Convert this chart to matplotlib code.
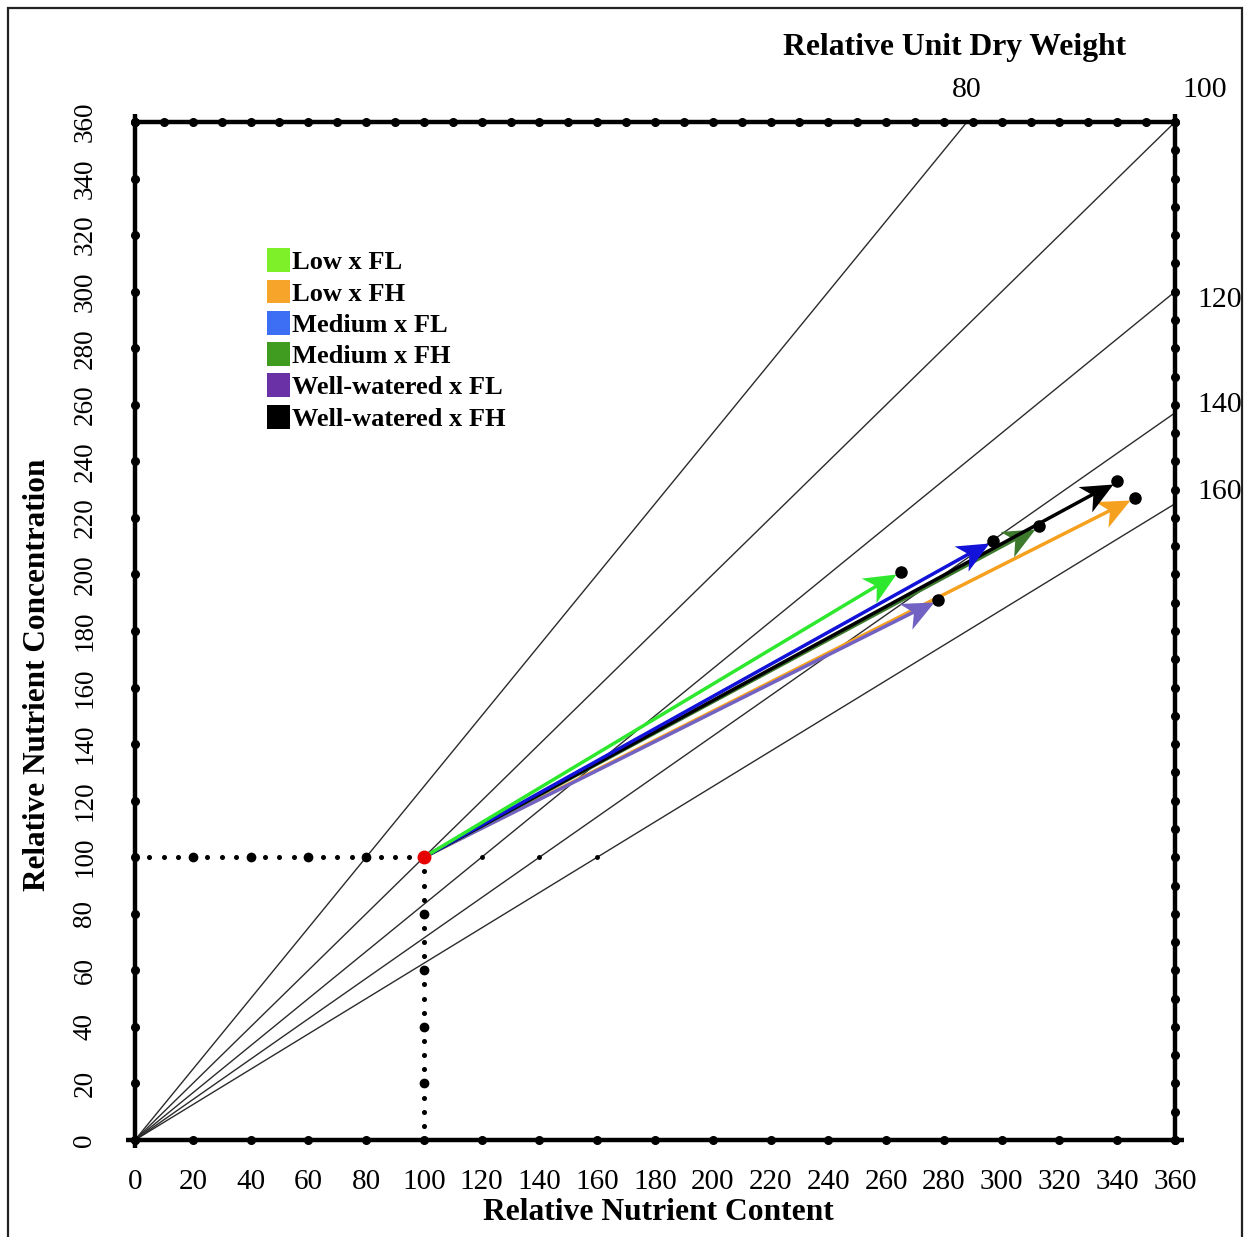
import numpy as np
import matplotlib
matplotlib.use("Agg")
import matplotlib.pyplot as plt
from matplotlib.patches import Patch, Rectangle
from matplotlib.markers import MarkerStyle
from matplotlib.path import Path

plt.rcParams['font.family'] = ['Liberation Serif', 'DejaVu Serif']

# treatments, vector end points (relative content, relative concentration)
treatments = ["Low x FL", "Low x FH", "Medium x FL", "Medium x FH",
              "Well-watered x FL", "Well-watered x FH"]
rel_content = [265, 346, 297, 313, 278, 340]
rel_concentration = [201, 227, 212, 217, 191, 233]
legend_colors = ["#7ef02a", "#f7a42a", "#3d6ff5", "#3f9c21", "#6a30a6", "#000000"]
vector_colors = ["#2ee82e", "#f5a11f", "#1212d8", "#3d7a2e", "#7262c4", "#000000"]
draw_order = [1, 4, 3, 5, 2, 0]

# reference point (control = 100, 100)
ref_content = 100
ref_concentration = 100

# isolines of relative unit dry weight
dry_weights = [80, 100, 120, 140, 160]
dry_weight_offsets = {80: (0, 32), 100: (30, 32), 120: (22, -8), 140: (22, 8), 160: (22, 12)}

axis_ticks = list(range(0, 361, 20))

fig = plt.figure(figsize=(12.44, 12.37), dpi=100)
W_px, H_px = 1244, 1237
ax = fig.add_axes([135 / W_px, (H_px - 1140) / H_px, 1040 / W_px, 1018 / H_px])
ax.set_xlim(0, 360)
ax.set_ylim(0, 360)
for s in ax.spines.values():
    s.set_visible(False)

# thick frame with round tick dots
frame_kw = dict(color="black", lw=3.2, clip_on=False, zorder=6, solid_capstyle="butt")
ax.plot([-3, 363], [0, 0], **frame_kw)
ax.plot([0, 0], [-3, 363], **frame_kw)
ax.plot([0, 360], [360, 360], **frame_kw)
ax.plot([360, 360], [0, 363], **frame_kw)
dot_kw = dict(ls="none", marker="o", color="black", ms=5.5, clip_on=False, zorder=7)
ax.plot(axis_ticks, np.zeros(len(axis_ticks)), **dot_kw)
ax.plot(np.zeros(len(axis_ticks)), axis_ticks, **dot_kw)
fine = np.arange(0, 361, 10)
ax.plot(fine, np.full(len(fine), 360), **dot_kw)
ax.plot(np.full(len(fine), 360), fine, **dot_kw)

ax.set_xticks(axis_ticks)
ax.set_yticks(axis_ticks)
ax.set_xticklabels([str(t) for t in axis_ticks], fontsize=21)
ax.set_yticklabels([str(t) for t in axis_ticks], fontsize=19.5, rotation=90, va="center")
ax.tick_params(axis="x", length=0, pad=21)
ax.tick_params(axis="y", length=0, pad=27)

# dry weight isolines from the origin
for w in dry_weights:
    xs = np.array([0, 360])
    ax.plot(xs, xs * 100 / w, color="#2b2b2b", lw=1.0, zorder=2)
    if w <= 100:
        xe, ye = 360 * w / 100, 360
    else:
        xe, ye = 360, 360 * 100 / w
    ax.annotate(str(w), (xe, ye), xytext=dry_weight_offsets[w], textcoords="offset pixels",
                ha="center" if w <= 100 else "left", va="center", fontsize=21.5,
                annotation_clip=False)
    if w > 100:
        ax.plot(ref_concentration * w / 100, ref_concentration, "o", color="black", ms=2.5, zorder=3)

# dotted guide lines to the reference point
small = [v for v in range(5, 100, 5) if v % 20]
big = [20, 40, 60, 80]
ax.plot(small, [ref_concentration] * len(small), "o", color="black", ms=2.6, zorder=3)
ax.plot(big, [ref_concentration] * len(big), "o", color="black", ms=6, zorder=3)
ax.plot([ref_content] * len(small), small, "o", color="black", ms=2.6, zorder=3)
ax.plot([ref_content] * len(big), big, "o", color="black", ms=6, zorder=3)

# vectors
head = Path([(0, 0), (-1, 0.45), (-0.72, 0), (-1, -0.45), (0, 0)],
            [Path.MOVETO, Path.LINETO, Path.LINETO, Path.LINETO, Path.CLOSEPOLY])
to_disp = ax.transData
to_data = ax.transData.inverted()
p0 = to_disp.transform((ref_content, ref_concentration))
for k, i in enumerate(draw_order):
    p1 = to_disp.transform((rel_content[i], rel_concentration[i]))
    d = p1 - p0
    u = d / np.hypot(*d)
    angle = np.degrees(np.arctan2(d[1], d[0]))
    tip = to_data.transform(p1 - 5 * u)
    line_end = to_data.transform(p1 - 16 * u)
    z = 4 + k * 0.1
    ax.plot([ref_content, line_end[0]], [ref_concentration, line_end[1]],
            color=vector_colors[i], lw=2.5, solid_capstyle="butt", zorder=z)
    ax.plot(tip[0], tip[1], ls="none", marker=MarkerStyle(head).rotated(deg=angle),
            ms=46, color=vector_colors[i], mec="none", zorder=z)
    ax.plot(rel_content[i], rel_concentration[i], "o", color="black", ms=8, zorder=5)

ax.plot(ref_content, ref_concentration, "o", color="#e60000", ms=9, zorder=5.5)

# legend
handles = [Patch(facecolor=c, edgecolor="none", label=t) for c, t in zip(legend_colors, treatments)]
ax.legend(handles=handles, loc="upper left", bbox_to_anchor=(0.127, 0.876), frameon=False,
          handlelength=0.88, handleheight=1.02, handletextpad=0.08, labelspacing=0.2,
          borderpad=0, borderaxespad=0, prop=dict(family="Liberation Serif", weight="bold", size=19))

fig.text(955 / W_px, 1 - 47 / H_px, "Relative Unit Dry Weight", ha="center", va="center",
         fontsize=22.8, fontweight="bold")
fig.text(658 / W_px, 1 - 1213 / H_px, "Relative Nutrient Content", ha="center", va="center",
         fontsize=22.7, fontweight="bold")
fig.text(38 / W_px, 1 - 675 / H_px, "Relative Nutrient Concentration", ha="center", va="center",
         rotation=90, fontsize=22.5, fontweight="bold")

fig.add_artist(Rectangle((8 / W_px, -0.02), (1242 - 8) / W_px, 1.02 - 8 / H_px,
                         transform=fig.transFigure, fill=False, lw=1.6, edgecolor="#222222"))

fig.savefig("out.png", dpi=100)
